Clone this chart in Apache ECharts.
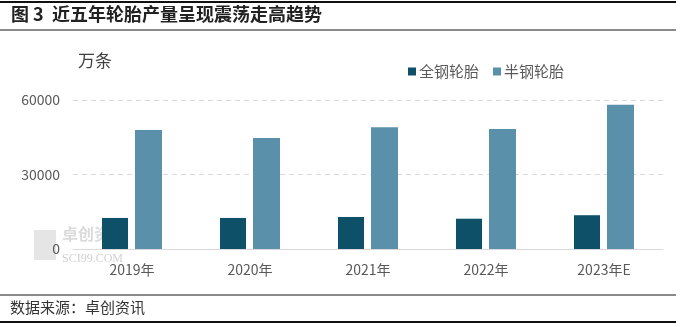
<!DOCTYPE html>
<html><head><meta charset="utf-8">
<script src="https://cdn.jsdelivr.net/npm/echarts@6/dist/echarts.min.js"></script>
<style>html,body{margin:0;padding:0;background:#fff}#c{width:681px;height:327px}</style>
</head><body><div id="c"></div>
<script>
const categories = ['2019年','2020年','2021年','2022年','2023年E'];
const allSteel = [12500, 12500, 12900, 12200, 13600];
const semiSteel = [47900, 44700, 49000, 48300, 58100];
const yTicks = [0, 30000, 60000];
const seriesNames = ['全钢轮胎','半钢轮胎'];

const chart = echarts.init(document.getElementById('c'), null, {renderer:'canvas'});
const font = '"Noto Sans CJK SC", "Noto Sans", sans-serif';
chart.setOption({
  animation:false,
  backgroundColor:'#fff',
  textStyle:{fontFamily:font},
  grid:{left:73, right:18, top:100, bottom:78},
  legend:{
    data:seriesNames, left:403, top:59, itemWidth:8, itemHeight:8, itemGap:14,
    icon:'rect', textStyle:{fontSize:15, color:'#595959', fontFamily:font, padding:[0,0,0,-2]}
  },
  xAxis:{
    type:'category', data:categories,
    axisLine:{lineStyle:{color:'#d9d9d9', width:1}},
    axisTick:{show:false},
    axisLabel:{fontSize:14, color:'#595959', margin:14, fontFamily:font}
  },
  yAxis:{
    type:'value', min:yTicks[0], max:yTicks[yTicks.length-1], interval:30000,
    axisLine:{show:false}, axisTick:{show:false},
    axisLabel:{fontSize:14, color:'#595959', margin:13, fontFamily:font, formatter:function(v){return String(v);}},
    splitLine:{lineStyle:{color:'#d9d9d9', type:[5,4], width:1}}
  },
  series:[
    {name:seriesNames[0], type:'bar', data:allSteel, barWidth:26, barGap:'27%', itemStyle:{color:'#0d5068'}},
    {name:seriesNames[1], type:'bar', data:semiSteel, barWidth:27, itemStyle:{color:'#5b90aa'}}
  ],
  graphic:[
    {type:'rect', shape:{x:0,y:1,width:676,height:2}, style:{fill:'#111'}},
    {type:'text', left:11, top:5, style:{text:'图 3  近五年轮胎产量呈现震荡走高趋势', font:'bold 18px "Noto Sans CJK SC"', fill:'#222'}},
    {type:'rect', shape:{x:0,y:29,width:676,height:2}, style:{fill:'#8a8a8a'}},
    {type:'text', left:78, top:52, style:{text:'万条', font:'17px "Noto Sans CJK SC"', fill:'#404040'}},
    {type:'rect', shape:{x:34,y:230,width:22,height:30}, style:{fill:'rgba(170,170,170,0.3)'}},
    {type:'text', left:62, top:226, style:{text:'卓创资讯', font:'bold 16px "Noto Sans CJK SC"', fill:'rgba(150,150,150,0.35)'}},
    {type:'text', left:62, top:253, style:{text:'SCI99.COM', font:'12px "Liberation Serif"', fill:'rgba(150,150,150,0.45)'}},
    {type:'rect', shape:{x:0,y:294,width:676,height:2}, style:{fill:'#8a8a8a'}},
    {type:'text', left:10, top:300, style:{text:'数据来源：卓创资讯', font:'15px "Noto Sans CJK SC"', fill:'#333'}},
    {type:'rect', shape:{x:0,y:321,width:676,height:2}, style:{fill:'#111'}}
  ]
});
</script></body></html>
